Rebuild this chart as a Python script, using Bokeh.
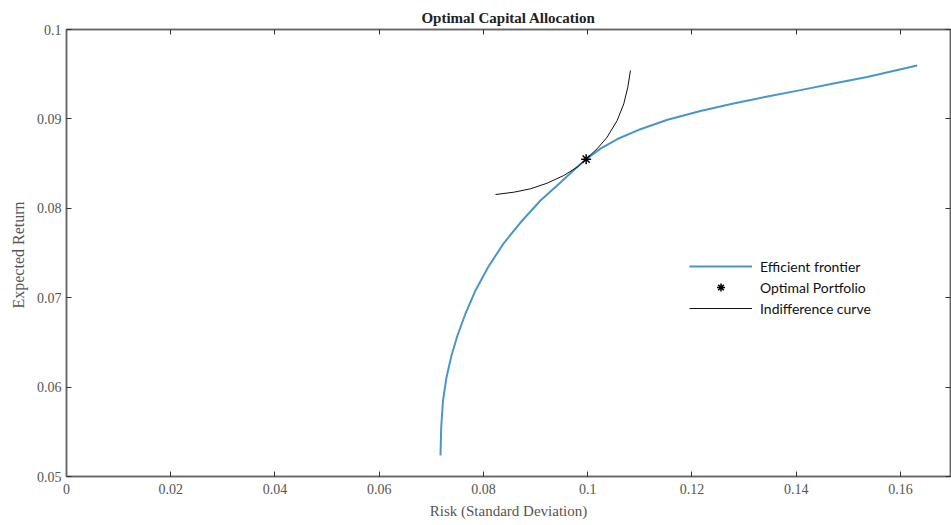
from bokeh.plotting import figure
from bokeh.models import FixedTicker, LinearAxis, Legend, LegendItem, Range1d
from bokeh.embed import file_html
from bokeh.resources import INLINE

# Efficient frontier (risk, return)
frontier_risk = [0.07175, 0.07189, 0.07223, 0.07290, 0.07386, 0.07501, 0.07655, 0.07847,
                 0.08096, 0.08384, 0.08710, 0.09094, 0.09477, 0.09765, 0.09976, 0.10245,
                 0.10571, 0.11012, 0.11530, 0.12163, 0.12796, 0.13449, 0.14082, 0.14715,
                 0.15361, 0.16320]
frontier_ret = [0.05235, 0.05548, 0.05850, 0.06107, 0.06353, 0.06577, 0.06823, 0.07081,
                0.07349, 0.07606, 0.07841, 0.08087, 0.08289, 0.08445, 0.08552, 0.08668,
                0.08775, 0.08885, 0.08990, 0.09088, 0.09172, 0.09251, 0.09322, 0.09396,
                0.09468, 0.09597]

# Indifference curve
indiff_risk = [0.08230, 0.08582, 0.08902, 0.09222, 0.09541, 0.09798, 0.09957, 0.10181,
               0.10373, 0.10565, 0.10692, 0.10769, 0.10820]
indiff_ret = [0.08154, 0.08180, 0.08218, 0.08281, 0.08367, 0.08460, 0.08546, 0.08666,
              0.08796, 0.08982, 0.09169, 0.09355, 0.09541]

# Optimal portfolio
opt_risk = [0.0997]
opt_ret = [0.0855]

x_ticks = [0, 0.02, 0.04, 0.06, 0.08, 0.1, 0.12, 0.14, 0.16]
x_labels = ["0", "0.02", "0.04", "0.06", "0.08", "0.1", "0.12", "0.14", "0.16"]
y_ticks = [0.05, 0.06, 0.07, 0.08, 0.09, 0.1]
y_labels = ["0.05", "0.06", "0.07", "0.08", "0.09", "0.1"]

SERIF = "Liberation Serif"
GRAY = "#555555"

p = figure(width=951, height=525, output_backend="svg", toolbar_location=None,
           x_range=Range1d(0, 0.1696), y_range=Range1d(0.05, 0.1),
           min_border_left=66, min_border_right=1, min_border_top=29, min_border_bottom=49,
           x_axis_location=None, y_axis_location=None)
p.title.text = "Optimal Capital Allocation"
p.title.align = "center"
p.title.text_font = SERIF
p.title.text_font_size = "15px"
p.title.text_font_style = "bold"
p.title.text_color = "#222222"
p.title.offset = 0
p.title.standoff = 8

p.xgrid.visible = False
p.ygrid.visible = False
p.outline_line_color = "#666666"
p.outline_line_width = 1.5
p.background_fill_color = "white"


def style(ax, labels=True):
    ax.major_tick_in = 5
    ax.major_tick_out = 0
    ax.minor_tick_in = 0
    ax.minor_tick_out = 0
    ax.axis_line_color = "#666666"
    ax.axis_line_width = 1.5
    ax.major_tick_line_color = "#333333"
    ax.major_label_text_font = SERIF
    ax.major_label_text_font_size = "14px"
    ax.major_label_text_color = GRAY
    ax.axis_label_text_font = SERIF
    ax.axis_label_text_font_size = "15px"
    ax.axis_label_text_color = GRAY
    ax.axis_label_text_font_style = "normal"
    if not labels:
        ax.major_label_standoff = 0


xb = LinearAxis(ticker=FixedTicker(ticks=x_ticks), axis_label="Risk (Standard Deviation)")
xb.major_label_overrides = {t: l for t, l in zip(x_ticks, x_labels)}
style(xb)
xb.major_label_standoff = 7
xb.axis_label_standoff = 6
p.add_layout(xb, "below")

yl = LinearAxis(ticker=FixedTicker(ticks=y_ticks), axis_label="Expected  Return")
yl.major_label_overrides = {t: l for t, l in zip(y_ticks, y_labels)}
style(yl)
yl.major_label_standoff = 5
yl.axis_label_standoff = 7
yl.axis_label_text_font_size = "16px"
p.add_layout(yl, "left")

xt = LinearAxis(ticker=FixedTicker(ticks=x_ticks))
xt.major_label_overrides = {t: "" for t in x_ticks}
style(xt, labels=False)
p.add_layout(xt, "above")

yr = LinearAxis(ticker=FixedTicker(ticks=y_ticks))
yr.major_label_overrides = {t: "" for t in y_ticks}
style(yr, labels=False)
p.add_layout(yr, "right")

r1 = p.line(frontier_risk, frontier_ret, line_color="#4a96c8", line_width=2)
r2 = p.line(indiff_risk, indiff_ret, line_color="#111111", line_width=1)
r3 = p.scatter(opt_risk, opt_ret, marker="asterisk", size=10, line_color="black", line_width=1.5)

legend = Legend(items=[
    LegendItem(label="Efficient frontier", renderers=[r1]),
    LegendItem(label="Optimal Portfolio", renderers=[r3]),
    LegendItem(label="Indifference curve", renderers=[r2]),
], location=(623, 158))
legend.border_line_color = None
legend.background_fill_alpha = 0
legend.label_text_font = "Lato"
legend.label_text_font_size = "14px"
legend.label_text_color = "#111111"
legend.glyph_width = 63
legend.glyph_height = 20
legend.label_height = 20
legend.spacing = 1
legend.label_standoff = 8
legend.padding = 5
p.add_layout(legend, "center")

open("out.html", "w").write(file_html(p, INLINE))
